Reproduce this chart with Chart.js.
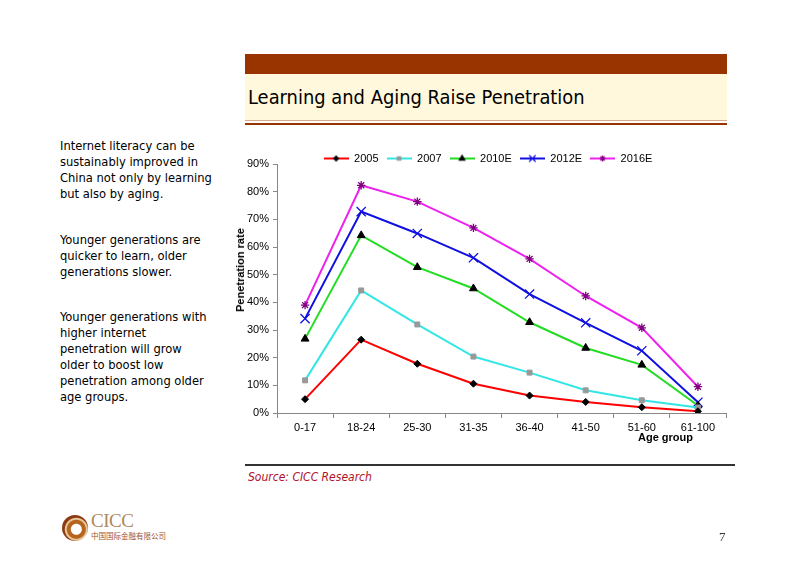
<!DOCTYPE html>
<html><head><meta charset="utf-8">
<script src="https://cdn.jsdelivr.net/npm/chart.js@4/dist/chart.umd.min.js"></script>
<style>
html,body{margin:0;padding:0}
body{width:802px;height:567px;position:relative;background:#fff;overflow:hidden;font-family:"DejaVu Sans Condensed","DejaVu Sans",sans-serif}
#bandTop{position:absolute;left:245px;top:54px;width:482px;height:20px;background:#993300}
#bandCream{position:absolute;left:245px;top:74px;width:482px;height:46px;background:#FFF8DC}
#line1{position:absolute;left:245px;top:120px;width:482px;height:1px;background:#d9a98c}
#line2{position:absolute;left:245px;top:123px;width:482px;height:2px;background:#993300}
#title{position:absolute;left:248px;top:86px;font-size:19.9px;color:#000;white-space:nowrap}
#left{position:absolute;left:60px;top:138px;font-size:12.8px;line-height:16px;color:#000;white-space:nowrap}
#left p{margin:0 0 30px 0}
#left p.b{margin-bottom:29px}
#wrap{position:absolute;left:228px;top:145px;width:510px;height:301px}
#ytitle{position:absolute;left:240px;top:270px;transform:translate(-50%,-50%) rotate(-90deg);font-family:"Liberation Sans",Arial,sans-serif;font-weight:bold;font-size:11px;white-space:nowrap}
#xtitle{position:absolute;left:638px;top:431px;font-family:"Liberation Sans",Arial,sans-serif;font-weight:bold;font-size:11px;white-space:nowrap}
#srcline{position:absolute;left:245px;top:464px;width:490px;height:2px;background:#333}
#src{position:absolute;left:248px;top:470px;font-size:12px;font-style:italic;color:#b0102a;white-space:nowrap}
#logo{position:absolute;left:62px;top:515px;width:26px;height:26px;border-radius:50%;background:radial-gradient(circle at 55% 55%,#fff 0 5px,#b5651d 6px 9px,#e7c79a 10px 11px,#8b3a12 12px)}
#cicc{position:absolute;left:91px;top:510px;font-family:"Liberation Serif",serif;font-size:19px;color:#b0895a;letter-spacing:-0.5px}
#cn{position:absolute;left:91px;top:530px;font-family:"Noto Sans CJK SC",sans-serif;font-size:7.5px;color:#a0522d;white-space:nowrap}
#pg{position:absolute;left:719px;top:529px;font-family:"Liberation Serif",serif;font-size:13px;color:#333}
</style></head><body>
<div id="bandTop"></div><div id="bandCream"></div><div id="line1"></div><div id="line2"></div>
<div id="title">Learning and Aging Raise Penetration</div>
<div id="left">
<p>Internet literacy can be<br>sustainably improved in<br>China not only by learning<br>but also by aging.</p>
<p class="b">Younger generations are<br>quicker to learn, older<br>generations slower.</p>
<p>Younger generations with<br>higher internet<br>penetration will grow<br>older to boost low<br>penetration among older<br>age groups.</p>
</div>
<div id="wrap"><canvas id="c" width="510" height="301"></canvas></div>
<div id="ytitle">Penetration rate</div>
<div id="xtitle">Age group</div>
<div id="srcline"></div>
<div id="src">Source: CICC Research</div>
<div id="logo"></div><div id="cicc">CICC</div><div id="cn">中国国际金融有限公司</div>
<div id="pg">7</div>
<script>
const categories = ["0-17","18-24","25-30","31-35","36-40","41-50","51-60","61-100"];
const seriesNames = ["2005","2007","2010E","2012E","2016E"];
const s2005  = [5.0, 26.5, 17.8, 10.6, 6.3, 4.0, 2.1, 0.6];
const s2007  = [11.8, 44.3, 32.0, 20.4, 14.6, 8.2, 4.6, 2.0];
const s2010E = [26.8, 64.2, 52.7, 45.0, 32.8, 23.5, 17.4, 2.7];
const s2012E = [34.1, 72.8, 64.9, 56.1, 43.0, 32.6, 22.5, 3.9];
const s2016E = [39.0, 82.3, 76.4, 66.9, 55.7, 42.3, 30.8, 9.5];
const yTicks = [0,10,20,30,40,50,60,70,80,90];

const styles = [
  {line:"#FF0000", marker:"#000000", shape:"rectRot", r:3.5},
  {line:"#33E6E6", marker:"#999999", shape:"rect", r:3.5},
  {line:"#22DD22", marker:"#000000", shape:"triangle", r:4.5},
  {line:"#1010E0", marker:"#1010E0", shape:"crossRot", r:6.5},
  {line:"#EE22EE", marker:"#800080", shape:"star", r:4.2}
];
const allData = [s2005, s2007, s2010E, s2012E, s2016E];

const datasets = seriesNames.map((n,i)=>({
  label: n,
  data: allData[i],
  borderColor: styles[i].line,
  borderWidth: 2,
  pointStyle: styles[i].shape,
  pointRadius: styles[i].r,
  pointBackgroundColor: styles[i].marker,
  pointBorderColor: styles[i].marker,
  pointBorderWidth: (styles[i].shape==='crossRot'||styles[i].shape==='star')?1.3:1,
  tension: 0,
  fill: false
}));

function makeIcon(st){
  const cv = document.createElement('canvas');
  cv.width = 25; cv.height = 12;
  const ctx = cv.getContext('2d');
  ctx.strokeStyle = st.line; ctx.lineWidth = 2;
  ctx.beginPath(); ctx.moveTo(0,6); ctx.lineTo(25,6); ctx.stroke();
  ctx.fillStyle = st.marker; ctx.strokeStyle = st.marker; ctx.lineWidth = 1.2;
  Chart.helpers.drawPoint(ctx, {pointStyle: st.shape, radius: st.r*0.7, borderWidth: 1.2, rotation:0}, 12.5, 6);
  return cv;
}

const legendShift = {
  id: 'legendShift',
  afterLayout(chart) {
    if (chart.legend) { chart.legend.left += 11; chart.legend.right += 11; }
  }
};

new Chart(document.getElementById('c'), {
  type: 'line',
  data: {labels: categories, datasets},
  plugins: [legendShift],
  options: {
    responsive: false,
    animation: false,
    layout: {padding: {left: 0, right: 12, top: 0, bottom: 0}},
    plugins: {
      tooltip: {enabled: false},
      legend: {
        display: true, position: 'top', maxHeight: 19,
        labels: {
          usePointStyle: true, pointStyleWidth: 25,
          font: {family: "Liberation Sans", size: 11}, color: '#000',
          padding: 8,
          generateLabels: (chart) => chart.data.datasets.map((d,i)=>({
            text: d.label, pointStyle: makeIcon(styles[i]), datasetIndex: i,
            fillStyle: 'transparent', strokeStyle: 'transparent', lineWidth: 0, fontColor:'#000'
          }))
        }
      }
    },
    scales: {
      x: {
        type: 'category', offset: true,
        grid: {display: true, drawOnChartArea: false, drawTicks: true, tickLength: 5, color: '#888', offset: true},
        border: {display: true, color: '#888', width: 1},
        ticks: {font: {family: "Liberation Sans", size: 11}, color: '#000', padding: 3, maxRotation: 0, autoSkip: false},
        afterFit: (s) => { s.height = 33; }
      },
      y: {
        min: 0, max: 90,
        afterBuildTicks: (s) => { s.ticks = yTicks.map(v=>({value:v})); },
        grid: {display: true, drawOnChartArea: false, drawTicks: true, tickLength: 4, color: '#888'},
        border: {display: true, color: '#888', width: 1},
        ticks: {font: {family: "Liberation Sans", size: 11}, color: '#000', padding: 4, callback: (v)=> v + '%'},
        afterFit: (s) => { s.width = 49; }
      }
    }
  }
});
</script>
</body></html>
